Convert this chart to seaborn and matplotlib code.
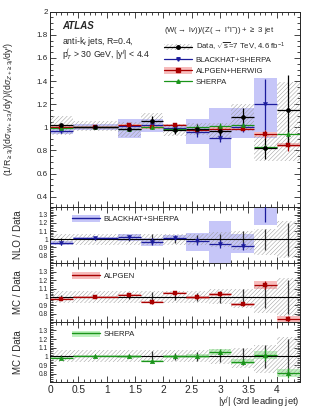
import numpy as np
import pandas as pd
import matplotlib
matplotlib.use("Agg")
import matplotlib.pyplot as plt
import seaborn as sns
from matplotlib.patches import Patch
from matplotlib.lines import Line2D
from matplotlib.ticker import MultipleLocator, FixedLocator

# ---------------- data ----------------
bin_lo = [0.0, 0.4, 1.2, 1.6, 2.0, 2.4, 2.8, 3.2, 3.6, 4.0]
bin_hi = [0.4, 1.2, 1.6, 2.0, 2.4, 2.8, 3.2, 3.6, 4.0, 4.4]
bin_ctr = [0.2, 0.8, 1.4, 1.8, 2.2, 2.6, 3.0, 3.4, 3.8, 4.2]

# main panel
data_val = [1.02, 1.00, 0.985, 1.055, 0.975, 0.985, 0.965, 1.09, 0.82, 1.147]
data_stat = [0.02, 0.01, 0.02, 0.04, 0.03, 0.04, 0.05, 0.08, 0.09, 0.31]
data_syst_lo = [0.93, 0.97, 0.92, 0.99, 0.925, 0.93, 0.90, 0.97, 0.71, 0.71]
data_syst_hi = [1.10, 1.055, 1.05, 1.12, 1.03, 1.04, 1.04, 1.20, 0.93, 1.39]

bh_val = [0.97, 1.005, 1.01, 1.02, 0.995, 0.96, 0.912, 1.00, 1.20]
bh_err = [0.02, 0.01, 0.02, 0.03, 0.02, 0.04, 0.04, 0.04, 0.22]
bh_band_lo = [0.94, 0.975, 0.91, 0.96, 0.97, 0.86, 0.65, 0.91, 0.91]
bh_band_hi = [0.985, 1.03, 1.07, 1.07, 1.02, 1.07, 1.17, 1.17, 1.43]

alp_val = [1.00, 1.00, 1.02, 1.00, 1.02, 0.975, 0.99, 0.99, 0.94, 0.847]
alp_err = [0.015, 0.01, 0.015, 0.015, 0.015, 0.015, 0.015, 0.015, 0.04, 0.05]
alp_band = [0.01, 0.008, 0.01, 0.01, 0.01, 0.01, 0.01, 0.012, 0.02, 0.02]

sh_val = [0.995, 1.00, 0.99, 1.00, 0.985, 1.00, 1.015, 1.02, 0.83, 0.94]
sh_err = [0.015, 0.01, 0.015, 0.015, 0.015, 0.015, 0.02, 0.02, 0.03, 0.04]

# ratio panels (theory / data)
rdata_stat = [0.02, 0.01, 0.02, 0.06, 0.04, 0.05, 0.07, 0.10, 0.13, 0.20]
rdata_syst_lo = [0.93, 0.93, 0.93, 0.93, 0.93, 0.93, 0.91, 0.87, 0.81, 0.77]
rdata_syst_hi = [1.07, 1.07, 1.07, 1.07, 1.07, 1.07, 1.09, 1.10, 1.13, 1.22]

bh_ratio = [0.95, 1.01, 1.025, 0.97, 1.02, 0.975, 0.945, 0.92, 1.45]
bh_ratio_err = [0.02, 0.01, 0.03, 0.04, 0.03, 0.05, 0.05, 0.05, 0.24]
bh_ratio_lo = [0.93, 0.995, 0.98, 0.92, 0.995, 0.86, 0.69, 0.83, 1.17]
bh_ratio_hi = [0.975, 1.03, 1.07, 1.01, 1.05, 1.08, 1.22, 1.07, 1.73]

alp_ratio = [0.98, 1.00, 1.02, 0.94, 1.045, 0.995, 1.03, 0.91, 1.145, 0.735]
alp_ratio_err = [0.015, 0.01, 0.015, 0.02, 0.02, 0.02, 0.02, 0.02, 0.05, 0.04]
alp_ratio_band = [0.015, 0.01, 0.015, 0.015, 0.015, 0.015, 0.015, 0.015, 0.05, 0.04]

sh_ratio = [0.98, 1.01, 1.00, 0.945, 1.00, 1.005, 1.05, 0.94, 1.015, 0.81]
sh_ratio_err = [0.015, 0.01, 0.015, 0.015, 0.015, 0.02, 0.03, 0.03, 0.07, 0.06]
sh_ratio_band = [0.015, 0.01, 0.015, 0.015, 0.015, 0.02, 0.03, 0.03, 0.05, 0.05]

# ---------------- style ----------------
sns.set_theme(style="ticks")
plt.rcParams['font.family'] = ['Liberation Sans', 'DejaVu Sans']
plt.rcParams['mathtext.fontset'] = 'custom'
plt.rcParams['mathtext.rm'] = 'Liberation Sans'
plt.rcParams['mathtext.it'] = 'Liberation Sans:italic'
plt.rcParams['mathtext.bf'] = 'Liberation Sans:bold'
plt.rcParams['hatch.linewidth'] = 0.35
plt.rcParams['axes.linewidth'] = 0.7

BLUE, BLUE_BAND = '#1c1c9c', '#c6c6f8'
RED, RED_BAND = '#a80000', '#f7bcbc'
GREEN, GREEN_BAND = '#1a941a', '#bff2bf'
HATCH = '#9a9a9a'
HPAT = '////////'

lo = np.array(bin_lo); hi = np.array(bin_hi); ctr = np.array(bin_ctr)
wid = hi - lo

fig = plt.figure(figsize=(3.16, 4.13), dpi=100)
L, W = 50 / 316, 249.5 / 316
ax0 = fig.add_axes([L, 1 - 206.7 / 413, W, (206.7 - 11.7) / 413])
ax1 = fig.add_axes([L, 1 - 263.3 / 413, W, (263.3 - 206.7) / 413])
ax2 = fig.add_axes([L, 1 - 321.7 / 413, W, (321.7 - 263.3) / 413])
ax3 = fig.add_axes([L, 1 - 382.0 / 413, W, (382.0 - 321.7) / 413])


def hatch_band(ax, ylo, yhi):
    ylo = np.array(ylo); yhi = np.array(yhi)
    ax.bar(ctr, yhi - ylo, bottom=ylo, width=wid, color='none', hatch=HPAT,
           edgecolor=HATCH, linewidth=0, zorder=2)


def fill_band(ax, ylo, yhi, color, n):
    ylo = np.array(ylo); yhi = np.array(yhi)
    ax.bar(ctr[:n], yhi - ylo, bottom=ylo, width=wid[:n], color=color,
           linewidth=0, zorder=1)


def series(ax, vals, errs, color, marker, ms, lw=0.9):
    n = len(vals)
    v = np.array(vals); e = np.array(errs)
    ax.hlines(v, lo[:n], hi[:n], color=color, lw=lw, zorder=3)
    ax.vlines(ctr[:n], v - e, v + e, color=color, lw=lw, zorder=3)
    df = pd.DataFrame({'x': ctr[:n], 'y': v})
    sns.scatterplot(data=df, x='x', y='y', ax=ax, marker=marker, s=ms,
                    color=color, edgecolor=color, linewidth=0.3, zorder=4, legend=False)


# ---- main panel ----
fill_band(ax0, bh_band_lo, bh_band_hi, BLUE_BAND, 9)
fill_band(ax0, np.array(alp_val) - np.array(alp_band), np.array(alp_val) + np.array(alp_band), RED_BAND, 10)
hatch_band(ax0, data_syst_lo, data_syst_hi)
series(ax0, bh_val, bh_err, BLUE, 'v', 9)
series(ax0, alp_val, alp_err, RED, 's', 9)
series(ax0, sh_val, sh_err, GREEN, '^', 9)
series(ax0, data_val, data_stat, 'black', 'o', 9)

ax0.set_ylim(0.314, 2.0)
ax0.yaxis.set_major_locator(FixedLocator([0.4, 0.6, 0.8, 1.0, 1.2, 1.4, 1.6, 1.8, 2.0]))
ax0.yaxis.set_minor_locator(MultipleLocator(0.05))
ax0.set_yticklabels(['0.4', '0.6', '0.8', '1', '1.2', '1.4', '1.6', '1.8', '2'])
ax0.set_ylabel(r'(1/R$_{\geq 3j}$)(d$\sigma_{W+\geq 3j}$/dy$^{j}$)/(d$\sigma_{Z+\geq 3j}$/dy$^{j}$)',
               fontsize=6.3)
ax0.yaxis.set_label_coords(-0.135, 0.5)

ax0.text(0.05, 0.925, 'ATLAS', transform=ax0.transAxes, fontsize=7, fontweight='bold',
         fontstyle='italic', va='center')
ax0.text(0.05, 0.848, r'anti-k$_{t}$ jets, R=0.4,', transform=ax0.transAxes, fontsize=6.3, va='center')
ax0.text(0.05, 0.78, r'p$_{T}^{j}$ > 30 GeV, |y$^{j}$| < 4.4', transform=ax0.transAxes,
         fontsize=6.3, va='center')

h_data = (Patch(facecolor='none', edgecolor=HATCH, hatch=HPAT, linewidth=0),
          Line2D([], [], color='black', lw=0.9, marker='o', ms=2.5))
h_bh = Line2D([], [], color=BLUE, lw=0.9, marker='v', ms=2.5)
h_alp = (Patch(facecolor=RED_BAND, linewidth=0),
         Line2D([], [], color=RED, lw=0.9, marker='s', ms=2.5))
h_sh = Line2D([], [], color=GREEN, lw=0.9, marker='^', ms=2.5)
leg = ax0.legend([h_data, h_bh, h_alp, h_sh],
                 [r'Data, $\sqrt{\mathrm{s}}$=7 TeV, 4.6 fb$^{-1}$', 'BLACKHAT+SHERPA',
                  'ALPGEN+HERWIG', 'SHERPA'],
                 title=r'(W($\rightarrow$ l$\nu$))/(Z($\rightarrow$ l$^{+}$l$^{-}$)) + $\geq$ 3 jet',
                 loc='upper left', bbox_to_anchor=(0.44, 0.955), frameon=False,
                 fontsize=5.6, title_fontsize=5.6, handlelength=3.6, handleheight=0.9,
                 labelspacing=0.42, borderpad=0.1, handletextpad=0.4)
leg._legend_box.align = 'left'

# ---- ratio panels ----
def ratio_common(ax):
    hatch_band(ax, rdata_syst_lo, rdata_syst_hi)
    s = np.array(rdata_stat)
    ax.vlines(ctr, 1 - s, 1 + s, color='#333333', lw=0.9, zorder=3)
    ax.axhline(1.0, color='black', lw=0.8, zorder=3)
    ax.set_ylim(0.705, 1.4)
    ax.yaxis.set_major_locator(FixedLocator([0.8, 0.9, 1.0, 1.1, 1.2, 1.3]))
    ax.set_yticklabels(['0.8', '0.9', '1', '1.1', '1.2', '1.3'])
    ax.yaxis.set_minor_locator(MultipleLocator(0.02))


def ratio_legend(ax, band, line, label):
    ax.legend([(Patch(facecolor=band, linewidth=0), Line2D([], [], color=line, lw=1.0))],
              [label], loc='upper left', bbox_to_anchor=(0.06, 0.97), frameon=False,
              fontsize=5.6, handlelength=3.6, handleheight=0.9, handletextpad=0.5)


ratio_common(ax1)
fill_band(ax1, bh_ratio_lo, bh_ratio_hi, BLUE_BAND, 9)
series(ax1, bh_ratio, bh_ratio_err, BLUE, 'v', 9)
ratio_legend(ax1, BLUE_BAND, BLUE, 'BLACKHAT+SHERPA')
ax1.set_ylabel('NLO / Data', fontsize=7)

ratio_common(ax2)
a = np.array(alp_ratio); ab = np.array(alp_ratio_band)
fill_band(ax2, a - ab, a + ab, RED_BAND, 10)
series(ax2, alp_ratio, alp_ratio_err, RED, 's', 11)
ratio_legend(ax2, RED_BAND, RED, 'ALPGEN')
ax2.set_ylabel('MC / Data', fontsize=7)

ratio_common(ax3)
sv = np.array(sh_ratio); sb = np.array(sh_ratio_band)
fill_band(ax3, sv - sb, sv + sb, GREEN_BAND, 10)
series(ax3, sh_ratio, sh_ratio_err, GREEN, '^', 11)
ratio_legend(ax3, GREEN_BAND, GREEN, 'SHERPA')
ax3.set_ylabel('MC / Data', fontsize=7)

for ax in (ax1, ax2, ax3):
    ax.yaxis.set_label_coords(-0.11, 0.5)
    ax.tick_params(axis='y', labelsize=4.8)

for ax in (ax0, ax1, ax2, ax3):
    ax.set_xlim(0, 4.4)
    ax.xaxis.set_major_locator(MultipleLocator(0.5))
    ax.xaxis.set_minor_locator(MultipleLocator(0.1))
    ax.tick_params(which='both', direction='in', top=True, right=True, width=0.6, pad=1.5)
    ax.tick_params(which='major', length=4)
    ax.tick_params(which='minor', length=2)
    ax.set_xlabel('')
    for sp in ax.spines.values():
        sp.set_visible(True)
    if ax is not ax3:
        ax.tick_params(axis='x', labelbottom=False)
ax0.tick_params(axis='y', labelsize=5.8)
ax3.tick_params(axis='x', labelsize=7.3, pad=2)
ax3.set_xticks([0, 0.5, 1, 1.5, 2, 2.5, 3, 3.5, 4])
ax3.set_xticklabels(['0', '0.5', '1', '1.5', '2', '2.5', '3', '3.5', '4'])
fig.text(300 / 316, 1 - 402 / 413, r'|y$^{j}$| (3rd leading jet)', fontsize=6.8,
         ha='right', va='center')

fig.savefig('out.png', dpi=100)
